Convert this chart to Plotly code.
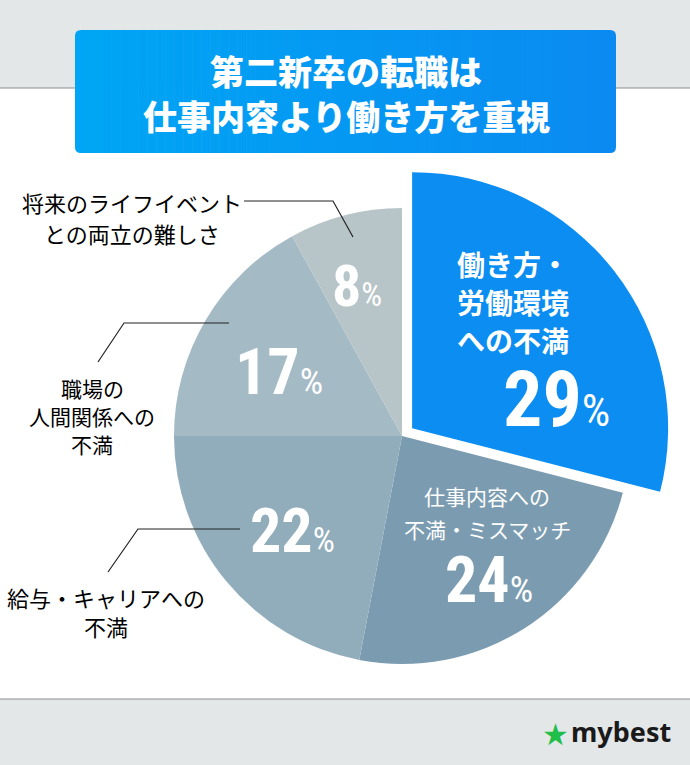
import numpy as np
import plotly.graph_objects as go

# ------------------------------------------------------------
# DATA
# ------------------------------------------------------------

categories = [
    "働き方・労働環境への不満",
    "仕事内容への不満・ミスマッチ",
    "給与・キャリアへの不満",
    "職場の人間関係への不満",
    "将来のライフイベントとの両立の難しさ",
]
values = [29, 24, 22, 17, 8]
colors = ["#0b8df2", "#7b9cb0", "#91adbb", "#a4bac5", "#b8c5c8"]

title_lines = ["第二新卒の転職は", "仕事内容より働き方を重視"]

W, H = 690, 765
JP = "Noto Sans CJK JP"
NUM = ("Roboto Condensed, Noto Sans Condensed, Open Sans Condensed, "
       "DejaVu Sans Condensed, Liberation Sans Narrow, Roboto, sans-serif")


def px(x, y):
    # pixel (top-left origin) -> paper coords
    return x / W, 1 - y / H


def dom(cx, cy, half):
    return dict(x=[(cx - half) / W, (cx + half) / W],
                y=[1 - (cy + half) / H, 1 - (cy - half) / H])


# ------------------------------------------------------------
# PIE: main pie (blue slot hidden) + a bigger pulled blue slice
# ------------------------------------------------------------

CX, CY, R = 402, 436, 228
R_BLUE, PULL = 256, 0.05

main_colors = ["rgba(0,0,0,0)"] + colors[1:]
blue_colors = [colors[0]] + ["rgba(0,0,0,0)"] * (len(values) - 1)

fig = go.Figure()

fig.add_trace(go.Pie(
    labels=categories, values=values, sort=False, direction="clockwise",
    rotation=0, marker=dict(colors=main_colors, line=dict(width=0)),
    textinfo="none", hoverinfo="label+percent", showlegend=False,
    domain=dom(CX, CY, R),
))

fig.add_trace(go.Pie(
    labels=categories, values=values, sort=False, direction="clockwise",
    rotation=0, marker=dict(colors=blue_colors, line=dict(width=0)),
    pull=[PULL, 0, 0, 0, 0],
    textinfo="none", hoverinfo="skip", showlegend=False,
    domain=dom(CX, CY, R_BLUE * (1 + PULL)),
))

# ------------------------------------------------------------
# BACKGROUND / TITLE BOX
# ------------------------------------------------------------

shapes = []
shapes.append(dict(type="rect", xref="paper", yref="paper",
                   x0=0, x1=1, y0=px(0, 699)[1], y1=px(0, 88)[1],
                   fillcolor="white", line=dict(width=0), layer="below"))
for yy in (88, 699):
    shapes.append(dict(type="line", xref="paper", yref="paper",
                       x0=0, x1=1, y0=px(0, yy)[1], y1=px(0, yy)[1],
                       line=dict(color="#8c8f90", width=1.2), layer="below"))

# gradient title box (stripes, rounded ends)
c0 = np.array([0x00, 0xa6, 0xf5])
c1 = np.array([0x0b, 0x8b, 0xf1])
bx0, bx1, by0, by1 = 75, 616, 30, 153
rad = 6
n = 60
for i in range(n):
    t = i / (n - 1)
    c = (c0 + (c1 - c0) * t).astype(int)
    xa = bx0 + (bx1 - bx0) * i / n
    xb = min(bx0 + (bx1 - bx0) * (i + 1) / n + 0.6, bx1)
    col = "rgb(%d,%d,%d)" % tuple(c)
    if i == 0:
        path = "M %f,%f L %f,%f Q %f,%f %f,%f L %f,%f Q %f,%f %f,%f L %f,%f Z" % (
            *px(xb, by0), *px(xa + rad, by0), *px(xa, by0), *px(xa, by0 + rad),
            *px(xa, by1 - rad), *px(xa, by1), *px(xa + rad, by1), *px(xb, by1))
    elif i == n - 1:
        path = "M %f,%f L %f,%f Q %f,%f %f,%f L %f,%f Q %f,%f %f,%f L %f,%f Z" % (
            *px(xa, by0), *px(xb - rad, by0), *px(xb, by0), *px(xb, by0 + rad),
            *px(xb, by1 - rad), *px(xb, by1), *px(xb - rad, by1), *px(xa, by1))
    else:
        path = None
    if path:
        shapes.append(dict(type="path", xref="paper", yref="paper", path=path,
                           fillcolor=col, line=dict(width=0), layer="below"))
    else:
        shapes.append(dict(type="rect", xref="paper", yref="paper",
                           x0=xa / W, x1=xb / W,
                           y0=px(0, by1)[1], y1=px(0, by0)[1],
                           fillcolor=col, line=dict(width=0), layer="below"))

# leader lines
leaders = [
    [(244, 201), (333, 201), (353, 237)],
    [(98, 362), (124, 323), (229, 323)],
    [(108, 572), (138, 529), (240, 529)],
]
for pts in leaders:
    path = "M " + " L ".join("%f,%f" % px(x, y) for x, y in pts)
    shapes.append(dict(type="path", xref="paper", yref="paper", path=path,
                       line=dict(color="#222222", width=1.2), layer="above"))

# ------------------------------------------------------------
# TEXT
# ------------------------------------------------------------

ann = []


def text(s, x, y, size, color="black", family=JP, weight=400):
    xx, yy = px(x, y)
    ann.append(dict(text=s, x=xx, y=yy, xref="paper", yref="paper",
                    showarrow=False, xanchor="center", yanchor="middle",
                    font=dict(family=family, size=size, color=color,
                              weight=weight)))


def lines(ls, x, y0, gap, size, color="black", weight=400):
    for k, s in enumerate(ls):
        text(s, x, y0 + k * gap, size, color, weight=weight)


lines(title_lines, 346, 70, 45, 34, "white", weight=900)

# percents
def pct(v, x, y, size):
    s = "<b>%d</b><span style='font-size:%dpx'>%%</span>" % (v, int(size * 0.58))
    text(s, x, y, size, "white", family=NUM, weight=400)

pct(values[0], 556, 399, 78)
pct(values[1], 489, 580, 64)
pct(values[2], 292, 530, 62)
pct(values[3], 279, 372, 64)
pct(values[4], 357, 286, 58)

# inside labels
lines(["働き方・", "労働環境", "への不満"], 513, 264, 38, 28, "white", weight=700)
lines(["仕事内容への", "不満・ミスマッチ"], 487, 496, 33, 21, "white")

# outside labels
lines(["将来のライフイベント", "との両立の難しさ"], 132, 202, 31, 22)
lines(["職場の", "人間関係への", "不満"], 92, 388, 28, 21)
lines(["給与・キャリアへの", "不満"], 106, 597, 29, 22)

# logo
text("★", 555, 734, 30, "#1fbf4a", family="DejaVu Sans")
text("<b>mybest</b>", 621, 731, 27, "#1a1a1a", family="Noto Sans, Lato")

# ------------------------------------------------------------
# LAYOUT
# ------------------------------------------------------------

fig.update_layout(
    width=W, height=H,
    paper_bgcolor="#e3e7e7",
    plot_bgcolor="#e3e7e7",
    margin=dict(l=0, r=0, t=0, b=0),
    shapes=shapes,
    annotations=ann,
    showlegend=False,
)

fig.write_html("out.html", config=dict(displayModeBar=False),
               post_script="document.body.style.margin='0';")
